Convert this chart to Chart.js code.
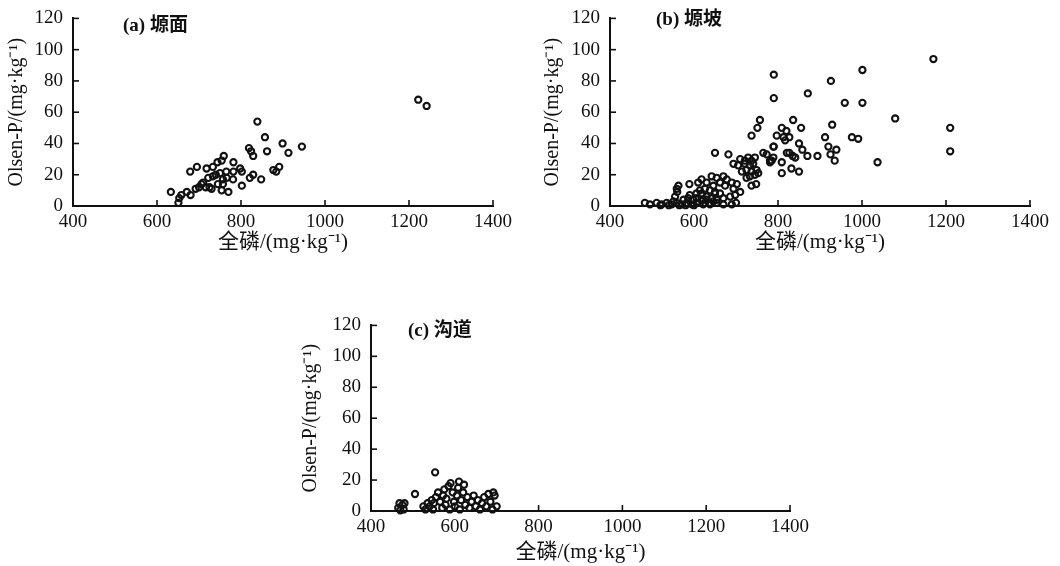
<!DOCTYPE html>
<html><head><meta charset="utf-8">
<script src="https://cdn.jsdelivr.net/npm/chart.js@4.4.0/dist/chart.umd.min.js"></script>
<style>
html,body{margin:0;padding:0;background:#fff;width:1060px;height:566px;overflow:hidden;}
.wrap{position:absolute;}
.ptitle{position:absolute;font-family:"Liberation Serif","Noto Sans CJK SC",serif;font-weight:bold;font-size:19px;color:#111;white-space:nowrap;line-height:1;}
</style></head><body>
<div class="wrap" style="left:0;top:-3px;width:520px;height:263px"><canvas id="ca" width="520" height="263"></canvas></div>
<div class="wrap" style="left:537px;top:-3px;width:523px;height:263px"><canvas id="cb" width="523" height="263"></canvas></div>
<div class="wrap" style="left:298px;top:304px;width:520px;height:262px"><canvas id="cc" width="520" height="262"></canvas></div>
<div class="ptitle" style="left:123px;top:15px">(a) 塬面</div>
<div class="ptitle" style="left:656px;top:9px">(b) 塬坡</div>
<div class="ptitle" style="left:408px;top:320px">(c) 沟道</div>
<script>
// ---- data ----
const X_TICKS = [400, 600, 800, 1000, 1200, 1400];
const Y_TICKS = [0, 20, 40, 60, 80, 100, 120];
const PANEL_TITLES = ["(a) 塬面", "(b) 塬坡", "(c) 沟道"];
const X_TITLE = "全磷/(mg·kg⁻¹)";
const Y_TITLE = "Olsen-P/(mg·kg⁻¹)";

// (a) 塬面
const A_X = [839,857,899,913,862,819,824,829,759,754,744,782,695,679,718,733,750,782,798,802,891,877,884,829,821,848,722,733,766,757,781,710,706,716,730,802,757,754,770,692,680,671,658,653,651,633,945,1222,1242,740,765,745,725,700];
const A_Y = [54,44,40,34,35,37,35,32,32,29,28,28,25,22,24,25,21,22,24,22,25,23,22,20,18,17,18,19,18,17,17,15,14,12,11,13,14,10,9,11,7,9,7,5,2,9,38,68,64,20,22,14,12,12];

// (b) 塬坡
const B_X = [1170,1001,790,926,871,790,959,1001,1079,836,929,855,1210,809,820,797,813,827,817,912,976,991,790,850,858,920,939,827,835,841,870,894,925,789,781,935,1037,1210,809,832,850,809,
  757,751,737,789,650,682,765,773,821,785,781,
  694,705,710,721,729,737,745,721,733,741,714,725,737,749,753,745,733,725,737,748,
  618,630,642,654,646,662,670,678,674,690,702,694,710,698,686,670,662,650,638,626,618,630,642,622,626,638,646,
  563,559,560,589,555,551,575,586,598,590,610,614,606,618,650,606,618,630,654,
  483,495,511,523,535,547,559,571,583,595,606,622,638,654,520,540,565,580,600,670,690,700];
const B_Y = [94,87,84,80,72,69,66,66,56,55,52,50,50,50,48,45,44,44,42,44,44,43,38,40,36,38,36,34,32,31,32,32,33,31,29,29,28,35,28,24,22,21,
  55,50,45,38,34,33,34,33,34,29,28,
  27,26,30,29,31,29,31,27,26,27,22,23,22,23,21,20,19,18,13,14,
  17,15,19,18,13,15,19,17,13,15,14,11,9,7,6,5,8,9,10,11,8,6,5,4,2,2,3,
  13,11,9,14,6,3,4,5,4,7,15,10,8,7,8,5,4,4,4,
  2,1,2,1,2,1,2,1,2,1,2,1,1,2,0.5,0.5,0.5,0.5,0.5,1,1,2];

// (c) 沟道
const C_X = [465,468,475,470,480,478,505,525,530,535,540,545,550,548,555,560,553,565,570,572,575,578,580,585,590,588,595,598,600,605,608,610,612,615,620,622,625,630,635,640,645,650,655,660,665,670,675,680,685,690,695,700,692];
const C_Y = [2,5,4,0.5,5,1,11,3,1,5,3,7,5,1,9,12,25,6,2,10,14,4,8,16,18,1,12,6,3,10,15,19,1,7,12,17,4,9,2,6,10,3,7,1,5,9,3,11,6,1,10,3,12];

// ---- drawing ----
const SERIF = '"Liberation Serif","Noto Sans CJK SC",serif';
const INK = '#111';

const innerTicks = {
  id: 'innerTicks',
  afterDraw(chart) {
    const ctx = chart.ctx, xs = chart.scales.x, ys = chart.scales.y;
    const a = chart.chartArea;
    ctx.save();
    ctx.strokeStyle = INK; ctx.lineWidth = 1.6;
    xs.ticks.forEach(t => {
      const px = xs.getPixelForValue(t.value);
      ctx.beginPath(); ctx.moveTo(px, a.bottom); ctx.lineTo(px, a.bottom - 6); ctx.stroke();
    });
    ys.ticks.forEach(t => {
      const py = ys.getPixelForValue(t.value);
      ctx.beginPath(); ctx.moveTo(a.left, py); ctx.lineTo(a.left + 6, py); ctx.stroke();
    });
    ctx.restore();
  }
};

function makeChart(id, xs, ys, opt) {
  const data = xs.map((x, i) => ({ x: x, y: ys[i] }));
  return new Chart(document.getElementById(id), {
    type: 'scatter',
    data: { datasets: [{ data: data, pointRadius: 3.1, pointBorderWidth: 2.1, borderColor: INK,
      backgroundColor: 'rgba(255,255,255,0)', pointHoverRadius: 3.1, clip: false }] },
    plugins: [innerTicks],
    options: {
      responsive: false, animation: false, events: [],
      layout: { padding: { top: 14, right: opt.right, left: 0, bottom: 0 } },
      plugins: { legend: { display: false }, tooltip: { enabled: false } },
      scales: {
        x: {
          type: 'linear', min: 400, max: 1400,
          afterBuildTicks: s => { s.ticks = X_TICKS.map(v => ({ value: v })); },
          afterFit: s => { s.height = opt.xh; },
          grid: { display: false, drawTicks: false },
          border: { display: true, color: INK, width: 2 },
          ticks: { color: INK, padding: 5, font: { family: SERIF, size: 19 }, maxRotation: 0, autoSkip: false,
                   callback: v => String(v) },
          title: { display: true, text: X_TITLE, color: INK, font: { family: SERIF, size: 21 },
                   padding: { top: 0, bottom: opt.xtp } }
        },
        y: {
          type: 'linear', min: 0, max: 120,
          afterBuildTicks: s => { s.ticks = Y_TICKS.map(v => ({ value: v })); },
          afterFit: s => { s.width = 73; },
          grid: { display: false, drawTicks: false },
          border: { display: true, color: INK, width: 2 },
          ticks: { color: INK, padding: 10, font: { family: SERIF, size: 19 }, autoSkip: false,
                   callback: v => String(v) },
          title: { display: true, text: Y_TITLE, color: INK, font: { family: SERIF, size: 20 },
                   padding: { top: opt.ytp, bottom: 0 } }
        }
      }
    }
  });
}

makeChart('ca', A_X, A_Y, { right: 27, xh: 54, xtp: 5, ytp: 5 });
makeChart('cb', B_X, B_Y, { right: 30, xh: 54, xtp: 5, ytp: 4 });
makeChart('cc', C_X, C_Y, { right: 28, xh: 55, xtp: 1, ytp: 1 });
</script>
</body></html>
